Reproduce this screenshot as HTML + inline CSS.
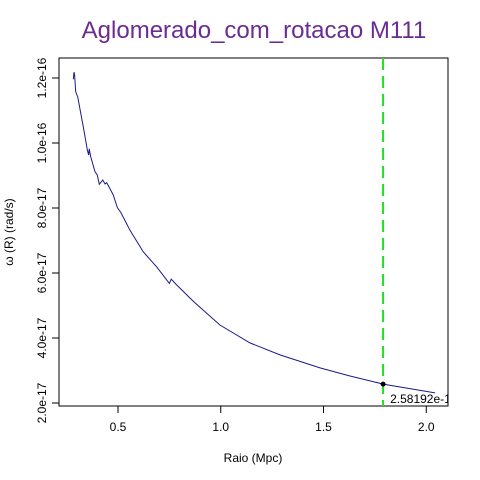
<!DOCTYPE html>
<html><head><meta charset="utf-8"><style>
body{margin:0;background:#fff}
svg{display:block;font-family:"Liberation Sans",sans-serif}
</style></head><body>
<svg id="chart" width="480" height="480">
<text x="254" y="38" text-anchor="middle" font-size="24" fill="#6b2c91">Aglomerado_com_rotacao M111</text>
<text x="253" y="462" text-anchor="middle" font-size="12">Raio (Mpc)</text>
<text transform="translate(13,232) rotate(-90)" text-anchor="middle" font-size="12">ω (R) (rad/s)</text>
<rect x="59" y="58" width="389" height="348" fill="none" stroke="#000"/>
<g id="xaxis"></g>
<g id="yaxis"></g>
<g id="marks"></g>
</svg>
<script>
const radius=[0.2825,0.286,0.289,0.294,0.304,0.331,0.351,0.357,0.360,0.367,0.388,0.399,0.409,0.426,0.437,0.445,0.477,0.497,0.513,0.558,0.623,0.688,0.750,0.759,0.786,0.850,0.875,0.996,1.142,1.288,1.483,1.629,1.790,2.043];
const omega=[11.96,12.18,12.09,11.58,11.42,10.50,9.78,9.63,9.82,9.58,9.12,9.02,8.73,8.86,8.74,8.78,8.40,8.01,7.87,7.32,6.65,6.19,5.68,5.81,5.63,5.23,5.08,4.40,3.85,3.48,3.08,2.83,2.582,2.31];
const xTicks=[0.5,1.0,1.5,2.0];
const xTickLabels=["0.5","1.0","1.5","2.0"];
const yTicks=[2,4,6,8,10,12];
const yTickLabels=["2.0e-17","4.0e-17","6.0e-17","8.0e-17","1.0e-16","1.2e-16"];
const markerR=[1.79];
const markerOmega=[2.58192];
const markerLabel=["2.58192e-17"];
const NS="http://www.w3.org/2000/svg";
const xs=v=>118+(v-0.5)*205.5;
const ys=v=>403-(v-2)*32.5;
function mk(tag,attrs,parent){const e=document.createElementNS(NS,tag);for(const k in attrs)e.setAttribute(k,attrs[k]);parent.appendChild(e);return e;}
const xa=document.getElementById('xaxis'),ya=document.getElementById('yaxis'),mg=document.getElementById('marks');
xTicks.forEach((t,i)=>{
 const l=mk('line',{x1:xs(t),x2:xs(t),y1:406,y2:413,stroke:'#000'},xa);
 
 
 const tx=mk('text',{x:xs(t),y:431,'text-anchor':'middle','font-size':12},xa);
 tx.textContent=xTickLabels[i];
 
 
});
yTicks.forEach((t,i)=>{
 const l=mk('line',{x1:52,x2:59,y1:ys(t),y2:ys(t),stroke:'#000'},ya);
 
 
 const tx=mk('text',{transform:`translate(46,${ys(t)}) rotate(-90)`,'text-anchor':'middle','font-size':12},ya);
 tx.textContent=yTickLabels[i];
 
 
});
const clip=mk('clipPath',{id:'pc'},document.getElementById('chart'));
mk('rect',{x:59,y:58,width:389,height:348},clip);
const line=mk('polyline',{points:radius.map((r,i)=>xs(r)+','+ys(omega[i])).join(' '),fill:'none',stroke:'#1a1a8c','stroke-width':1,'clip-path':'url(#pc)'},mg);


markerR.forEach((r,i)=>{
 const v=mk('line',{x1:xs(r),x2:xs(r),y1:58,y2:406,stroke:'#22dd22','stroke-width':2,'stroke-dasharray':'12,6'},mg);
 
 
 const c=mk('circle',{cx:xs(r),cy:ys(markerOmega[i]),r:2.5,fill:'#000'},mg);
 
 
 const t=mk('text',{x:xs(r)+7,y:ys(markerOmega[i])+19,'font-size':12,'clip-path':'url(#pc)'},mg);
 t.textContent=markerLabel[i];
 
 
});
</script>
</body></html>
